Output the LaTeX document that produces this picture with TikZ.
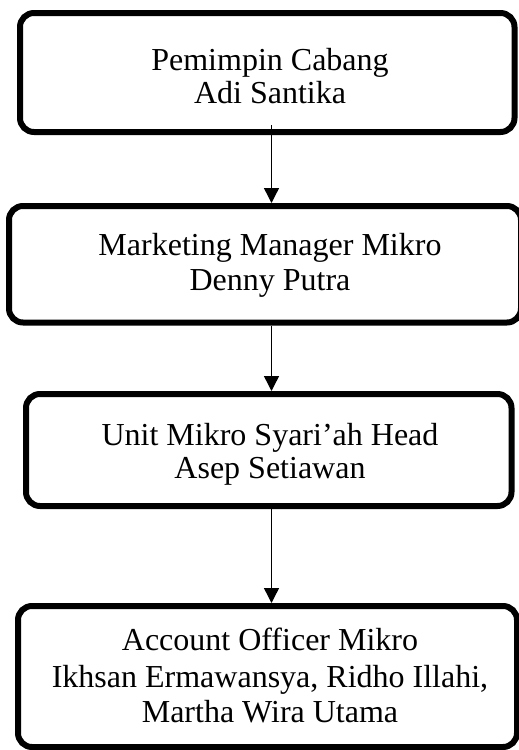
\documentclass[tikz,border=0pt]{standalone}
\usepackage{fontspec}
\setmainfont{Liberation Serif}
\usetikzlibrary{arrows.meta}
\begin{document}
\begin{tikzpicture}[x=1pt,y=-1pt,
  box/.style={draw=black,line width=6pt,rounded corners=14pt,inner sep=0pt,fill=white},
  txt/.style={anchor=base,inner sep=0pt,font=\fontsize{32}{36}\selectfont},
  arr/.style={line width=1.4pt,-{Triangle[width=15pt,length=15pt]}}]
\useasboundingbox (0,0) rectangle (519,750);
\fill[white] (0,0) rectangle (519,750);
\node[box,minimum width=494.5pt,minimum height=119pt] (b1) at (267.25,72.5) {};
\node[box,minimum width=512pt,minimum height=116.5pt] (b2) at (265,264.25) {};
\node[box,minimum width=485.5pt,minimum height=112pt] (b3) at (268.75,450) {};
\node[box,minimum width=499pt,minimum height=141pt] (b4) at (267.5,676.5) {};
\coordinate (ax) at (271.5,0);
\node[txt] (t1a) at (270,70) {Pemimpin Cabang};
\node[txt] (t1b) at (270,103) {Adi Santika};
\node[txt] (t2a) at (270,255) {Marketing Manager Mikro};
\node[txt] (t2b) at (270,290) {Denny Putra};
\node[txt] (t3a) at (270,445) {Unit Mikro Syari’ah Head};
\node[txt] (t3b) at (270,478) {Asep Setiawan};
\node[txt] (t4a) at (270,650) {Account Officer Mikro};
\node[txt] (t4b) at (270,687) {Ikhsan Ermawansya, Ridho Illahi,};
\node[txt] (t4c) at (270,722) {Martha Wira Utama};
\draw[arr] ([yshift=10pt]b1.south -| ax) -- (b2.north -| ax);
\draw[arr] (b2.south -| ax) -- (b3.north -| ax);
\draw[arr] (b3.south -| ax) -- (b4.north -| ax);
\end{tikzpicture}
\end{document}
